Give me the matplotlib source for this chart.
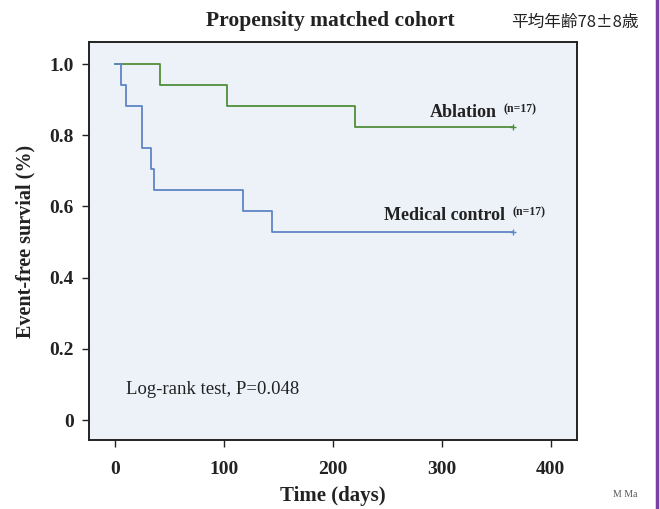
import matplotlib
matplotlib.use("Agg")
import matplotlib.pyplot as plt
from matplotlib.lines import Line2D

# ---- data ----
abl_times = [0, 41, 103, 220, 365]
abl_surv = [1.0, 0.941, 0.882, 0.824, 0.824]
med_times = [0, 5, 10, 25, 33, 36, 117, 144, 365]
med_surv = [1.0, 0.941, 0.882, 0.765, 0.706, 0.647, 0.588, 0.529, 0.529]
x_ticks = [0, 100, 200, 300, 400]
y_ticks = [0, 0.2, 0.4, 0.6, 0.8, 1.0]
y_ticklabels = ["0", "0.2", "0.4", "0.6", "0.8", "1.0"]

serif = ["Liberation Serif", "DejaVu Serif"]

fig = plt.figure(figsize=(6.6, 5.09), dpi=100)
fig.patch.set_facecolor("white")
ax = fig.add_axes([0.1348, 0.1356, 0.7394, 0.782])
ax.set_facecolor("#edf2f9")

ax.step(abl_times, abl_surv, where="post", color="#4e8f3a", lw=1.3)
ax.step(med_times, med_surv, where="post", color="#5d86c4", lw=1.3)
ax.plot([abl_times[-1]], [abl_surv[-1]], marker="+", color="#4e8f3a", ms=5, mew=1)
ax.plot([med_times[-1]], [med_surv[-1]], marker="+", color="#5d86c4", ms=5, mew=1)

ax.set_xlim(-24, 424)
ax.set_ylim(-0.056, 1.062)
ax.set_xticks(x_ticks)
ax.set_xticklabels([str(t) for t in x_ticks], fontfamily=serif, fontweight="bold", fontsize=14)
ax.set_yticks(y_ticks)
ax.set_yticklabels(y_ticklabels, fontfamily=serif, fontweight="bold", fontsize=14)
ax.tick_params(direction="out", length=5, width=1, colors="#222222")
ax.tick_params(axis="x", pad=10)
ax.tick_params(axis="y", pad=6)
for s in ax.spines.values():
    s.set_linewidth(1.4)
    s.set_color("#222222")

ax.set_xlabel("Time (days)", fontfamily=serif, fontweight="bold", fontsize=15, labelpad=6, color="#222222")
ax.set_ylabel("Event-free survial (%)", fontfamily=serif, fontweight="bold", fontsize=14.5, labelpad=10, color="#222222")

ax.text(350, 0.84, "Ablation", fontfamily=serif, fontweight="bold", fontsize=13, color="#222222", ha="right", va="bottom")
ax.text(357, 0.857, "(n=17)", fontfamily=serif, fontweight="bold", fontsize=8.5, color="#222222", ha="left", va="bottom")
ax.text(358, 0.55, "Medical control", fontfamily=serif, fontweight="bold", fontsize=13, color="#222222", ha="right", va="bottom")
ax.text(365, 0.567, "(n=17)", fontfamily=serif, fontweight="bold", fontsize=8.5, color="#222222", ha="left", va="bottom")
ax.text(10, 0.085, "Log-rank test, P=0.048", fontfamily=serif, fontsize=13.5, color="#222222", ha="left", va="center")

fig.text(0.50, 0.958, "Propensity matched cohort", fontfamily=serif, fontweight="bold", fontsize=15.5,
         color="#222222", ha="center", va="center")
fig.text(0.775, 0.955, "平均年齢78±8歳", fontfamily=["Noto Sans CJK JP", "DejaVu Sans"], fontsize=12,
         color="#222222", ha="left", va="center")
fig.text(0.929, 0.028, "M Ma", fontfamily=serif, fontsize=7, color="#555555", ha="left", va="center")

fig.add_artist(Line2D([0.995, 0.995], [0, 1], transform=fig.transFigure, color="#7b3fa8", lw=2.5))

fig.savefig("out.png", dpi=100)
